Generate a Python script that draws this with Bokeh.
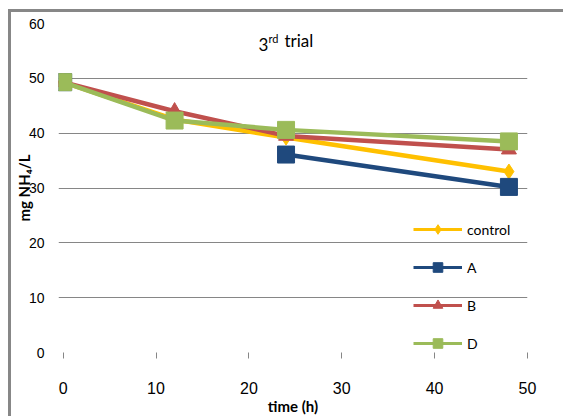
from bokeh.plotting import figure
from bokeh.models import (ColumnDataSource, Range1d, FixedTicker, Legend, LegendItem, Label)
from bokeh.embed import file_html
from bokeh.resources import INLINE

# sampling times (h) and NH4 concentration (mg/L) per treatment
time_h = [0, 12, 24, 48]
control = [49.3, 42.5, 39.2, 33.0]
treat_a = [49.3, float("nan"), 36.1, 30.2]
treat_b = [49.3, 44.0, 39.5, 37.0]
treat_d = [49.3, 42.3, 40.6, 38.5]

series_names = ["control", "A", "B", "D"]
x_ticks = [0, 10, 20, 30, 40, 50]
y_ticks = [0, 10, 20, 30, 40, 50, 60]

colors = ["#FFC000", "#1F497D", "#C0504D", "#9BBB59"]
markers = ["diamond", "square", "triangle", "square"]
sizes = [15, 17, 15, 17]
legend_sizes = [11, 11, 11, 11]

GRID = "#868686"
FONT = "Liberation Sans"
LFONT = "Lato"

p = figure(width=555, height=407, output_backend="svg", toolbar_location=None,
           x_range=Range1d(-0.5, 50), y_range=Range1d(0, 60),
           min_border_left=46, min_border_right=39, min_border_top=11, min_border_bottom=67)
p.outline_line_color = None
p.background_fill_color = "white"
p.border_fill_color = "white"
# grey chart-area border on the top and left edges
p.styles = {"margin-left": "8px", "margin-top": "9px",
            "border-left": "3px solid #878787", "border-top": "3px solid #878787"}

# axes
p.xaxis.ticker = FixedTicker(ticks=x_ticks)
p.xaxis.axis_line_color = None
p.xaxis.major_tick_line_color = GRID
p.xaxis.major_tick_out = 6
p.xaxis.major_tick_in = 0
p.xaxis.minor_tick_line_color = None
p.xaxis.major_label_standoff = 23
p.xaxis.major_label_text_font = FONT
p.xaxis.major_label_text_font_size = "16px"
p.xaxis.major_label_text_color = "black"
p.xaxis.axis_label = "time (h)"
p.xaxis.axis_label_text_font = LFONT
p.xaxis.axis_label_text_font_size = "15px"
p.xaxis.axis_label_text_font_style = "bold"
p.xaxis.axis_label_text_color = "black"
p.xaxis.axis_label_standoff = 0

p.yaxis.ticker = FixedTicker(ticks=y_ticks)
p.yaxis.axis_line_color = None
p.yaxis.major_tick_line_color = None
p.yaxis.major_tick_out = 0
p.yaxis.minor_tick_line_color = None
p.yaxis.major_label_standoff = 14
p.yaxis.major_label_text_font = FONT
p.yaxis.major_label_text_font_size = "14px"
p.yaxis.major_label_text_color = "black"
p.yaxis.axis_label = "mg NH\u2084/L"
p.yaxis.axis_label_text_font = LFONT
p.yaxis.axis_label_text_font_size = "15px"
p.yaxis.axis_label_text_font_style = "bold"
p.yaxis.axis_label_text_color = "black"
p.yaxis.axis_label_standoff = -7

p.xgrid.grid_line_color = None
p.ygrid.ticker = FixedTicker(ticks=y_ticks)
p.ygrid.grid_line_color = GRID
p.ygrid.grid_line_width = 1

# series: line plus markers, drawn in order so later ones sit on top
nan = float("nan")
items = []
for name, vals, col, mk, sz, lsz in zip(series_names, [control, treat_a, treat_b, treat_d],
                                        colors, markers, sizes, legend_sizes):
    src = ColumnDataSource(dict(t=time_h, v=vals))
    p.line("t", "v", source=src, line_color=col, line_width=4.5)
    p.scatter("t", "v", source=src, marker=mk, size=sz, fill_color=col, line_color=col)
    # legend-only glyphs (thinner line, smaller marker)
    key = ColumnDataSource(dict(t=[nan], v=[nan]))
    lr = p.line("t", "v", source=key, line_color=col, line_width=3)
    sr = p.scatter("t", "v", source=key, marker=mk, size=lsz, fill_color=col, line_color=col)
    items.append(LegendItem(label=name, renderers=[lr, sr]))

legend = Legend(items=items, location=(355, -3), orientation="vertical",
                glyph_width=49, glyph_height=24, label_height=24, spacing=14,
                padding=0, margin=0,
                label_standoff=5, label_text_font=LFONT, label_text_font_size="14px",
                label_text_color="black", background_fill_alpha=0, border_line_alpha=0)
p.add_layout(legend, "center")

# title with superscript
p.add_layout(Label(x=200, y=302, x_units="screen", y_units="screen", text="3",
                   text_font=LFONT, text_font_size="17px", text_color="black"))
p.add_layout(Label(x=210, y=308, x_units="screen", y_units="screen", text="rd",
                   text_font=LFONT, text_font_size="11px", text_color="black"))
p.add_layout(Label(x=226, y=302, x_units="screen", y_units="screen", text="trial",
                   text_font=LFONT, text_font_size="17px", text_color="black"))

open("out.html", "w").write(file_html(p, INLINE))
